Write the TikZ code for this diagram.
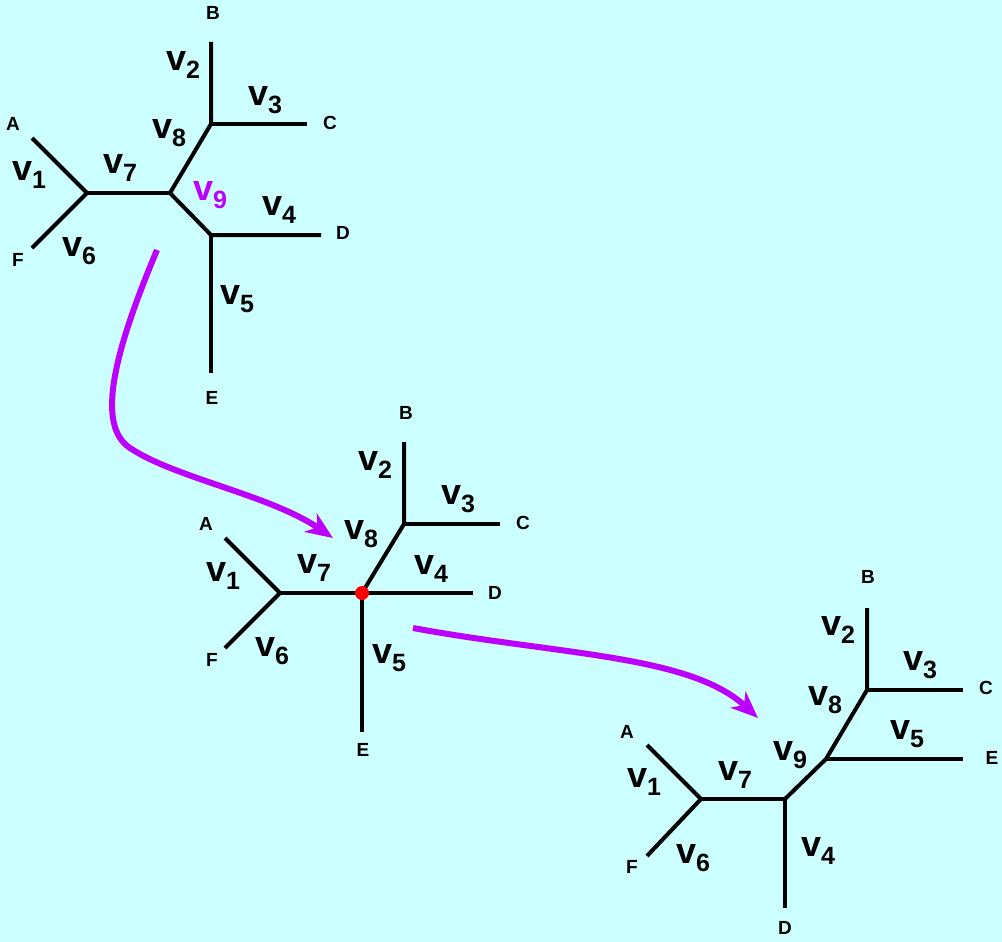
\documentclass[tikz,border=0pt]{standalone}
\usepackage{fontspec}
\setmainfont{Liberation Sans}
\usetikzlibrary{arrows.meta}
\definecolor{bgcyan}{HTML}{CCFFFF}
\definecolor{arrowmag}{RGB}{187,0,255}
\newcommand{\vlab}[1]{{\fontsize{36}{36}\selectfont v}\raisebox{-8pt}{\fontsize{25}{25}\selectfont #1}}
\newcommand{\leaflab}[1]{{\bfseries\fontsize{19}{19}\selectfont #1}}
\tikzset{
  edge/.style={line width=4pt, black, line cap=butt, line join=miter},
  leafnode/.style={inner sep=0pt},
  brl/.style={inner sep=0pt, font=\bfseries},
  movearrow/.style={line width=6pt, arrowmag, -{Stealth[length=27pt,width=22pt,inset=8pt]}},
}
\begin{document}
\begin{tikzpicture}[x=1pt,y=-1pt]
\fill[bgcyan] (0,0) rectangle (1002,942);
\useasboundingbox (0,0) rectangle (1002,942);

% ---------- top tree ----------
\coordinate (tA) at (32,138);
\coordinate (tJ1) at (87,193);
\coordinate (tF) at (32,248);
\coordinate (tJ9) at (170,193);
\coordinate (tJ8) at (211,124);
\coordinate (tB) at (211,42);
\coordinate (tC) at (307,124);
\coordinate (tJ4) at (211,235);
\coordinate (tD) at (321,235);
\coordinate (tE) at (211,373);
\draw[edge] (tA) -- (tJ1) -- (tF);
\draw[edge] (tJ1) -- (tJ9);
\draw[edge] (tJ9) -- (tJ8) -- (tB);
\draw[edge] (tJ8) -- (tC);
\draw[edge] (tJ9) -- (tJ4) -- (tD);
\draw[edge] (tJ4) -- (tE);

\node[leafnode] (tlB) at (213,13) {\leaflab{B}};
\node[leafnode] (tlA) at (13,124) {\leaflab{A}};
\node[leafnode] (tlC) at (330,123) {\leaflab{C}};
\node[leafnode] (tlD) at (343,233) {\leaflab{D}};
\node[leafnode] (tlF) at (18,260) {\leaflab{F}};
\node[leafnode] (tlE) at (212,398) {\leaflab{E}};
\node[brl] (tv2) at (183,65) {\vlab{2}};
\node[brl] (tv3) at (265,100) {\vlab{3}};
\node[brl] (tv8) at (169,133) {\vlab{8}};
\node[brl] (tv7) at (120,168) {\vlab{7}};
\node[brl] (tv1) at (29,175) {\vlab{1}};
\node[brl, text=arrowmag] (tv9) at (210,195) {\vlab{9}};
\node[brl] (tv4) at (279,210) {\vlab{4}};
\node[brl] (tv6) at (79,251) {\vlab{6}};
\node[brl] (tv5) at (237,299) {\vlab{5}};

% ---------- middle tree ----------
\coordinate (mA) at (225,538);
\coordinate (mJ1) at (280,593);
\coordinate (mF) at (225,648);
\coordinate (mJ9) at (362,593);
\coordinate (mJ8) at (404,524);
\coordinate (mB) at (404,442);
\coordinate (mC) at (500,524);
\coordinate (mD) at (473,593);
\coordinate (mE) at (362,732);
\draw[edge] (mA) -- (mJ1) -- (mF);
\draw[edge] (mJ1) -- (mJ9) -- (mD);
\draw[edge] (mJ9) -- (mJ8) -- (mB);
\draw[edge] (mJ8) -- (mC);
\draw[edge] (mJ9) -- (mE);
\fill[red] (mJ9) circle (7pt);

\node[leafnode] (mlB) at (406,413) {\leaflab{B}};
\node[leafnode] (mlC) at (523,523) {\leaflab{C}};
\node[leafnode] (mlA) at (206,524) {\leaflab{A}};
\node[leafnode] (mlD) at (495,593) {\leaflab{D}};
\node[leafnode] (mlF) at (212,660) {\leaflab{F}};
\node[leafnode] (mlE) at (363,750) {\leaflab{E}};
\node[brl] (mv2) at (375,465) {\vlab{2}};
\node[brl] (mv3) at (458,499) {\vlab{3}};
\node[brl] (mv8) at (361,534) {\vlab{8}};
\node[brl] (mv1) at (223,576) {\vlab{1}};
\node[brl] (mv7) at (314,568) {\vlab{7}};
\node[brl] (mv4) at (431,569) {\vlab{4}};
\node[brl] (mv6) at (272,651) {\vlab{6}};
\node[brl] (mv5) at (389,658) {\vlab{5}};

% ---------- bottom tree ----------
\coordinate (bA) at (647,745);
\coordinate (bJ1) at (701,799);
\coordinate (bF) at (647,856);
\coordinate (bJ9) at (785,799);
\coordinate (bD) at (785,908);
\coordinate (bJ5) at (826,759);
\coordinate (bE) at (963,759);
\coordinate (bJ8) at (867,690);
\coordinate (bB) at (867,608);
\coordinate (bC) at (963,690);
\draw[edge] (bA) -- (bJ1) -- (bF);
\draw[edge] (bJ1) -- (bJ9) -- (bD);
\draw[edge] (bJ9) -- (bJ5) -- (bJ8) -- (bB);
\draw[edge] (bJ5) -- (bE);
\draw[edge] (bJ8) -- (bC);

\node[leafnode] (blB) at (868,577) {\leaflab{B}};
\node[leafnode] (blC) at (986,688) {\leaflab{C}};
\node[leafnode] (blE) at (992,758) {\leaflab{E}};
\node[leafnode] (blA) at (627,732) {\leaflab{A}};
\node[leafnode] (blF) at (632,867) {\leaflab{F}};
\node[leafnode] (blD) at (785,928) {\leaflab{D}};
\node[brl] (bv2) at (838,630) {\vlab{2}};
\node[brl] (bv3) at (920,665) {\vlab{3}};
\node[brl] (bv8) at (825,700) {\vlab{8}};
\node[brl] (bv5) at (907,734) {\vlab{5}};
\node[brl] (bv9) at (790,755) {\vlab{9}};
\node[brl] (bv7) at (735,775) {\vlab{7}};
\node[brl] (bv1) at (644,782) {\vlab{1}};
\node[brl] (bv6) at (693,858) {\vlab{6}};
\node[brl] (bv4) at (818,851) {\vlab{4}};

% ---------- arrows ----------
\coordinate (a1s) at (157,250);
\coordinate (a1m) at (130,448);
\coordinate (a1e) at (333,538);
\draw[movearrow] (a1s) .. controls (115,350) and (95,425) .. (a1m)
  .. controls (175,478) and (270,495) .. (a1e);
\coordinate (a2s) at (413,628);
\coordinate (a2e) at (758,718);
\draw[movearrow] (a2s) .. controls (560,655) and (690,655) .. (a2e);
\end{tikzpicture}
\end{document}
